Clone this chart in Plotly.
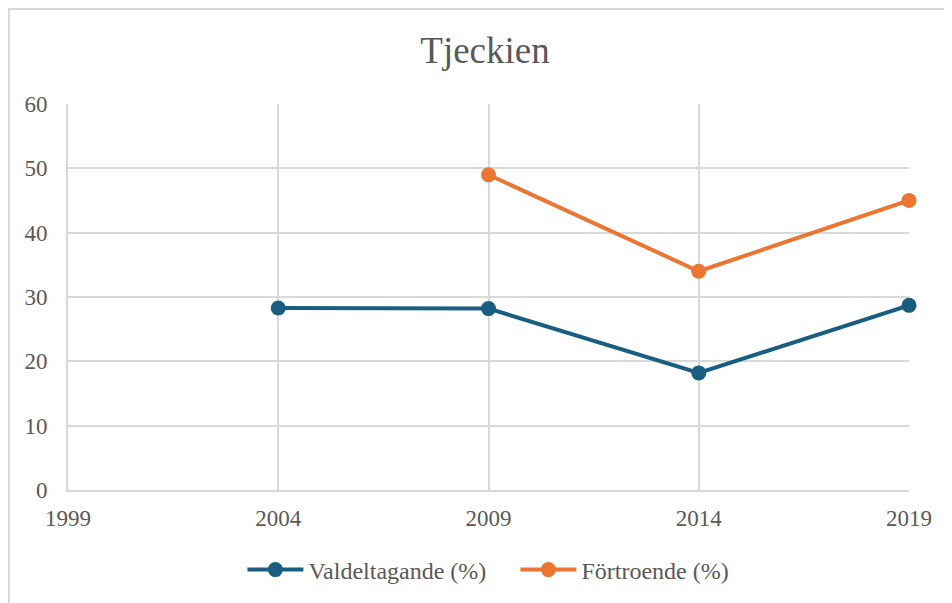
import plotly.graph_objects as go

years_valdeltagande = [2004, 2009, 2014, 2019]
valdeltagande = [28.3, 28.2, 18.2, 28.7]
years_fortroende = [2009, 2014, 2019]
fortroende = [49, 34, 45]
x_ticks = [1999, 2004, 2009, 2014, 2019]
y_ticks = [0, 10, 20, 30, 40, 50, 60]

font_family = "Liberation Serif"
text_color = "#595959"
grid_color = "#d9d9d9"

W, H = 952, 603
ML, MR, MT, MB = 60, 51, 96, 121
PW = W - ML - MR
PH = H - MT - MB

fig = go.Figure()
fig.add_trace(go.Scatter(
    x=years_valdeltagande, y=valdeltagande, name="Valdeltagande (%)",
    mode="lines+markers", line=dict(color="#195e80", width=4),
    marker=dict(size=15, color="#195e80"), cliponaxis=False,
))
fig.add_trace(go.Scatter(
    x=years_fortroende, y=fortroende, name="Förtroende (%)",
    mode="lines+markers", line=dict(color="#ec7532", width=4),
    marker=dict(size=15, color="#ec7532"), cliponaxis=False,
))

fig.update_layout(
    width=W, height=H,
    margin=dict(l=ML, r=MR, t=MT, b=MB),
    paper_bgcolor="white", plot_bgcolor="white",
    font=dict(family=font_family, size=23, color=text_color),
    title=dict(text="Tjeckien", x=(ML + PW / 2 - 3.5) / W, xanchor="center",
               y=1 - 42 / H, yanchor="middle",
               font=dict(family=font_family, size=37, color=text_color)),
    showlegend=True,
    legend=dict(orientation="h", x=0.532, xanchor="center",
                y=(MT + PH - 562) / PH, yanchor="middle",
                font=dict(family=font_family, size=24, color=text_color),
                itemwidth=56, entrywidth=202, entrywidthmode="pixels"),
    xaxis=dict(range=[1999, 2019], tickvals=x_ticks, ticktext=[str(v) for v in x_ticks],
               showgrid=True, gridcolor=grid_color, gridwidth=2,
               showline=True, linecolor=grid_color, linewidth=2,
               zeroline=False, ticks="", ticklabelstandoff=6,
               tickfont=dict(family=font_family, size=23, color=text_color)),
    yaxis=dict(range=[0, 60], tickvals=y_ticks,
               showgrid=True, gridcolor=grid_color, gridwidth=2,
               showline=True, linecolor=grid_color, linewidth=2,
               zeroline=False, ticks="", ticklabelstandoff=14,
               tickfont=dict(family=font_family, size=23, color=text_color)),
    shapes=[
        dict(type="rect", xref="paper", yref="paper",
             x0=(1 - ML) / PW, x1=1.3, y0=-0.6, y1=1 + (MT - 1) / PH,
             line=dict(color="#d9d9d9", width=2), fillcolor="rgba(0,0,0,0)", layer="below"),
    ],
)

fig.write_html("out.html")
